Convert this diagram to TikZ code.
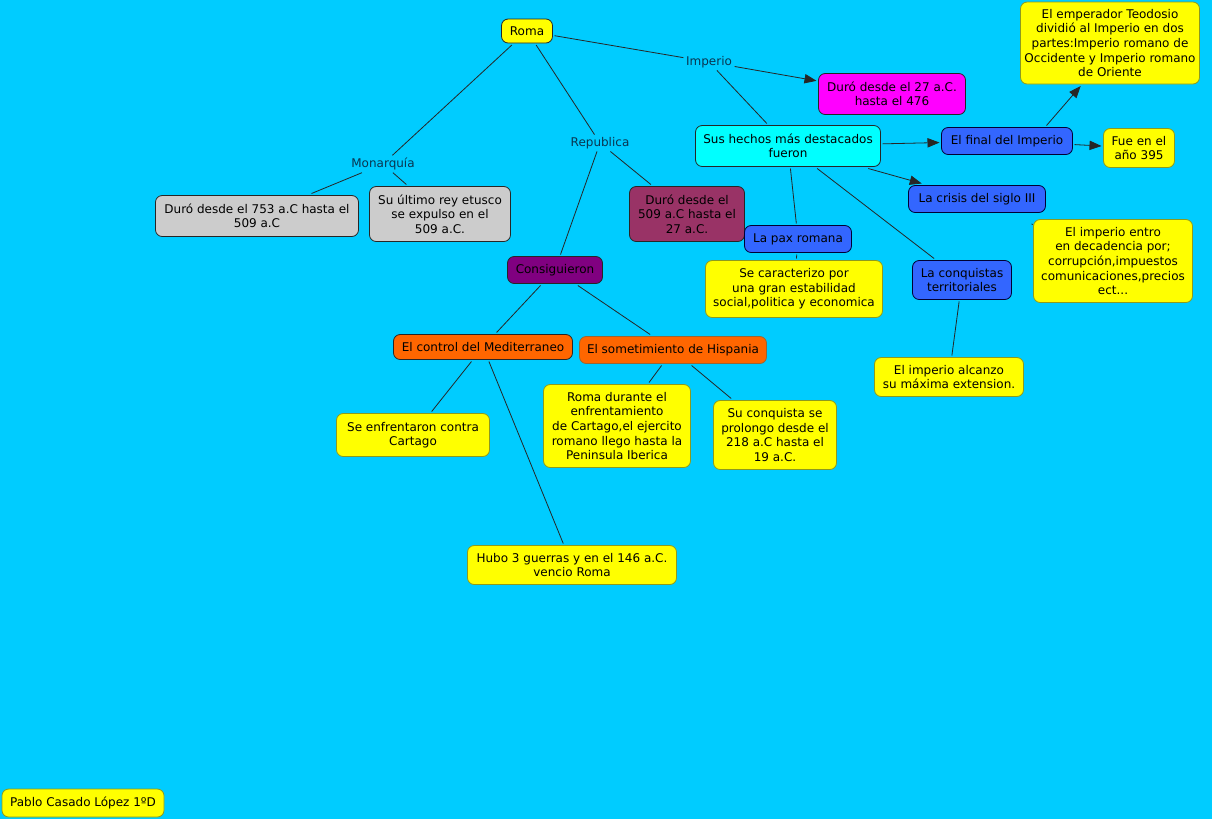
\documentclass[tikz,border=0pt]{standalone}
\usepackage{fontspec}
\setmainfont{DejaVu Sans}
\usepackage{tikz}
\usetikzlibrary{arrows.meta}

\definecolor{mapbg}{HTML}{00CCFF}
\definecolor{mapyellow}{HTML}{FFFF00}
\definecolor{mapgray}{HTML}{CCCCCC}
\definecolor{mapmagenta}{HTML}{FF00FF}
\definecolor{mapcyan}{HTML}{00FFFF}
\definecolor{mapblue}{HTML}{3366FF}
\definecolor{mapmaroon}{HTML}{993366}
\definecolor{mappurple}{HTML}{800080}
\definecolor{maporange}{HTML}{FF6600}
\definecolor{olive}{HTML}{8C9A1E}
\definecolor{linktext}{HTML}{0A3550}

\begin{document}
\begin{tikzpicture}[
    x=0.75pt, y=-0.75pt,
    box/.style={rectangle, rounded corners=5pt, draw=black!85, line width=0.6pt,
                align=center, inner sep=1pt, outer sep=1.5pt,
                font=\fontsize{9}{10.9}\selectfont},
    wh/.style 2 args={minimum width=#1*0.75pt, minimum height=#2*0.75pt},
    yellowbox/.style={box, fill=mapyellow, draw=olive},
    graybox/.style={box, fill=mapgray},
    bluebox/.style={box, fill=mapblue, draw=black!80!blue},
    link/.style={inner sep=2pt, outer sep=0pt, text=linktext,
                 font=\fontsize{9}{10.9}\selectfont},
    line/.style={draw=black!85, line width=0.6pt},
    arrow/.style={line, -{Triangle[length=9pt, width=7pt]}}
]

% background and page size
\fill[mapbg] (0,0) rectangle (1212,819);
\useasboundingbox (0,0) rectangle (1212,819);

% ================= NODES =================
\node[box, fill=mapyellow, wh={51}{24}] (Roma) at (527,31) {Roma};

% linking phrases
\node[link] (Monarq) at (383,164) {Monarquía};
\node[link] (Repub) at (600,143) {Republica};
\node[link] (Imper) at (709,62) {Imperio};

% Monarquia
\node[graybox, wh={203}{41}] (Dur753) at (257,216) {Duró desde el 753 a.C hasta el\\509 a.C};
\node[graybox, wh={141}{55}] (Ultimo) at (440,214) {Su último rey etusco\\se expulso en el\\509 a.C.};

% Republica
\node[box, fill=mapmaroon, wh={115}{55}] (Dur509) at (687,214) {Duró desde el\\509 a.C hasta el\\27 a.C.};
\node[box, fill=mappurple, wh={95}{27}] (Consig) at (555,270) {Consiguieron};
\node[box, fill=maporange, wh={179}{25}] (Control) at (483,347) {El control del Mediterraneo};
\node[box, fill=maporange, draw=brown!80!black, wh={187}{27}] (Somet) at (673,350) {El sometimiento de Hispania};
\node[yellowbox, wh={153}{43}] (Enfren) at (413,435) {Se enfrentaron contra\\Cartago};
\node[yellowbox, wh={209}{39}] (Hubo) at (572,565) {Hubo 3 guerras y en el 146 a.C.\\vencio Roma};
\node[yellowbox, wh={147}{83}] (RomaDur) at (617,426) {Roma durante el\\enfrentamiento\\de Cartago,el ejercito\\romano llego hasta la\\Peninsula Iberica};
\node[yellowbox, wh={123}{69}] (SuConq) at (775,435) {Su conquista se\\prolongo desde el\\218 a.C hasta el\\19 a.C.};

% Imperio
\node[box, fill=mapmagenta, wh={147}{41}] (Dur27) at (892,94) {Duró desde el 27 a.C.\\hasta el 476};
\node[box, fill=mapcyan, wh={185}{41}] (Hechos) at (788,146) {Sus hechos más destacados\\fueron};
\node[bluebox, wh={131}{27}] (Final) at (1007,141) {El final del Imperio};
\node[yellowbox, wh={71}{39}] (Fue) at (1139,148) {Fue en el\\año 395};
\node[yellowbox, wh={179}{82}] (Teodosio) at (1110,43) {El emperador Teodosio\\dividió al Imperio en dos\\partes:Imperio romano de\\Occidente y Imperio romano\\de Oriente};
\node[bluebox, wh={137}{27}] (Crisis) at (977,199) {La crisis del siglo III};
\node[yellowbox, wh={159}{83}] (Entro) at (1113,261) {El imperio entro\\en decadencia por;\\corrupción,impuestos\\comunicaciones,precios\\ect...};
\node[bluebox, wh={107}{27}] (Pax) at (798,239) {La pax romana};
\node[yellowbox, wh={177}{57}] (Caract) at (794,289) {Se caracterizo por\\una gran estabilidad\\social,politica y economica};
\node[bluebox, wh={99}{39}] (Conquis) at (962,280) {La conquistas\\territoriales};
\node[yellowbox, wh={149}{39}] (Alcanzo) at (949,377) {El imperio alcanzo\\su máxima extension.};

% author
\node[yellowbox, wh={162}{28}] (Autor) at (83,803) {Pablo Casado López 1ºD};

% ================= CONNECTORS =================
\draw[line] (Roma) -- (Monarq);
\draw[line] (Monarq) -- (Dur753);
\draw[line] (Monarq) -- (Ultimo);

\draw[line] (Roma) -- (Repub);
\draw[line] (Repub) -- (Dur509);
\draw[line] (Repub) -- (Consig);
\draw[line] (Consig) -- (Control);
\draw[line] (Consig) -- (Somet);
\draw[line] (Control) -- (Enfren);
\draw[line] (Control) -- (Hubo);
\draw[line] (Somet) -- (RomaDur);
\draw[line] (Somet) -- (SuConq);

\draw[line] (Roma) -- (Imper);
\draw[arrow] (Imper) -- (Dur27);
\draw[line] (Imper) -- (Hechos);
\draw[arrow] (Hechos) -- (Final);
\draw[arrow] (Final) -- (Fue);
\draw[arrow] ([xshift=-21pt]Final.north east) -- ([xshift=-22pt]Teodosio.south);
\draw[arrow] (Hechos) -- (Crisis);
\draw[line, shorten <=18pt] (Crisis) -- (Entro);
\draw[line] (Hechos) -- (Pax);
\draw[line] (Pax) -- (Caract);
\draw[line] (Hechos) -- (Conquis);
\draw[line] (Conquis) -- (Alcanzo);

\end{tikzpicture}
\end{document}
